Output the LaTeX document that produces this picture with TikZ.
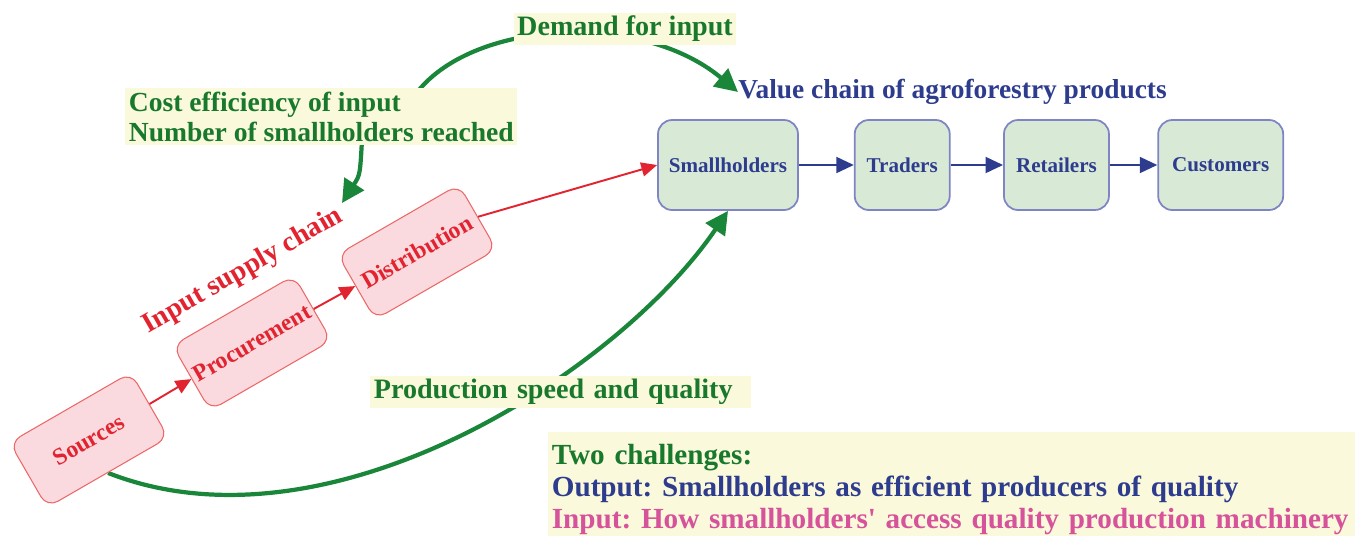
\documentclass[tikz,border=0pt]{standalone}
\usepackage{fontspec}
\setmainfont{Liberation Serif}
\usetikzlibrary{positioning,arrows.meta,backgrounds}
\frenchspacing

\definecolor{inred}{RGB}{226,36,48}
\definecolor{inborder}{RGB}{236,104,104}
\definecolor{infill}{RGB}{250,218,222}
\definecolor{vblue}{RGB}{46,60,142}
\definecolor{vborder}{RGB}{126,132,196}
\definecolor{vfill}{RGB}{216,234,214}
\definecolor{ngreen}{RGB}{24,120,44}
\definecolor{agreen}{RGB}{26,134,58}
\definecolor{noteyellow}{RGB}{251,249,220}
\definecolor{ipink}{RGB}{214,82,154}

\begin{document}
\begin{tikzpicture}[x=0.02cm, y=-0.02cm,
    inbox/.style={draw=inborder, line width=0.6pt, fill=infill, rounded corners=7pt,
      rotate=30, minimum width=2.8cm, minimum height=1.5cm, inner sep=1pt,
      text=inred, font=\bfseries\fontsize{13.5}{15}\selectfont},
    vbox/.style={draw=vborder, line width=1pt, fill=vfill, rounded corners=8pt,
      minimum height=1.8cm, inner sep=2pt, text=vblue,
      font=\bfseries\fontsize{12}{14}\selectfont},
    note/.style={fill=noteyellow, inner sep=2pt, text=ngreen, align=left,
      font=\bfseries\fontsize{16}{17}\selectfont},
    redarrow/.style={draw=inred, line width=1.1pt, -{Triangle[length=9pt,width=8pt]}},
    bluearrow/.style={draw=vblue, line width=1.5pt, -{Triangle[length=10pt,width=9pt]}},
    greenarrow/.style={draw=agreen, line width=2.4pt, -{Triangle[length=13pt,width=13pt]}}
  ]
  \useasboundingbox (0,0) rectangle (1355,535);

  % input supply chain
  \node[inbox] (src) at (89,440) {Sources};
  \node[inbox] (proc) at (252,343) {Procurement};
  \node[inbox] (dist) at (417,252) {Distribution};
  \node[text=inred, rotate=30, font=\bfseries\fontsize{16}{18}\selectfont] (ichain) at (243,271) {Input supply chain};

  % value chain
  \node[vbox, minimum width=2.8cm] (small) at (728,165) {Smallholders};
  \node[vbox, minimum width=1.9cm, right=1.1cm of small] (trad) {Traders};
  \node[vbox, minimum width=2.1cm, right=1.05cm of trad] (ret) {Retailers};
  \node[vbox, minimum width=2.5cm, right=0.95cm of ret] (cust) {Customers};
  \node[text=vblue, anchor=west, inner sep=0pt, font=\bfseries\fontsize{15.6}{17}\selectfont] (vtitle) at (738,92) {Value chain of agroforestry products};

  % notes
  \node[note] (demand) at (625,29) {Demand for input};
  \node[note, anchor=north west, font=\bfseries\fontsize{15.7}{17}\selectfont] (cost) at (125,88) {Cost efficiency of input\\Number of smallholders reached};
  \node[note, anchor=west, text width=7.48cm] (prod) at (370,392) {Production speed and quality};
  \node[note, anchor=north west, text width=17cm, minimum height=2.3cm, font=\bfseries\fontsize{16.6}{18.2}\selectfont] (chall) at (548,432)
    {{\color{ngreen}Two challenges:}\\{\color{vblue}Output: Smallholders as efficient producers of quality}\\{\color{ipink}Input: How smallholders\textquotesingle{} access quality production machinery}};

  \draw[redarrow] (src) -- (proc);
  \draw[redarrow] (proc) -- (dist);
  \draw[redarrow] (dist.east) -- (small.west);
  \draw[bluearrow] (small) -- (trad);
  \draw[bluearrow] (trad) -- (ret);
  \draw[bluearrow] (ret) -- (cust);

  \begin{scope}[on background layer]
    \coordinate (costtop) at (415,95);
    \coordinate (costlow) at (362,140);
    \coordinate (chaintop) at (342,203);
    \draw[greenarrow] (costtop) .. controls (470,20) and (640,10) .. (vtitle.west);
    \draw[greenarrow] (costlow) .. controls (360,175) .. (chaintop);
    \draw[greenarrow] (src.south) .. controls (330,560) and (620,370) .. (small.south);
  \end{scope}
\end{tikzpicture}
\end{document}
